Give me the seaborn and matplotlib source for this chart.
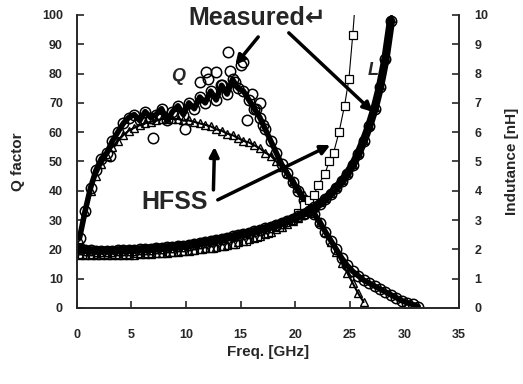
import numpy as np
import matplotlib
matplotlib.use("Agg")
import matplotlib.pyplot as plt
import seaborn as sns

# Q factor, measured (circles) and HFSS (triangles)
f_q_meas = np.arange(0.25, 31.5, 0.5)
q_meas = [24, 33, 41, 47, 51, 53, 57, 60, 63, 65,
          66, 64, 67, 65, 66, 68, 64, 67, 69, 66,
          70, 68, 72, 70, 74, 71, 76, 73, 78, 75,
          74, 71, 68, 65, 61, 57, 53, 49, 46, 43,
          40, 37, 34, 32, 29, 26, 23, 20, 17, 14.5,
          12.5, 11, 9.5, 8.5, 7.5, 6.5, 5.5, 4.5, 3.5, 2.5,
          1.8, 1.2, 0.5]
# scattered measured points around the peak
f_q_extra = [3.0, 7.0, 9.9, 11.3, 11.8, 12.0, 12.7, 13.2, 13.8, 14.0, 14.5, 15.0, 15.2, 15.6, 16.0, 16.4, 16.8, 17.0]
q_extra = [52, 58, 61, 77, 80.5, 78, 80.5, 76, 87.5, 81, 77, 83, 84, 64, 73, 68, 70, 62.5]

f_q_hfss = np.arange(0.25, 26.5, 0.5)
q_hfss = [23, 33, 40, 45, 49, 52, 55, 57, 59, 60.5,
          61.5, 62.5, 63, 63.5, 64, 64.5, 64.5, 64.5, 64.5, 64,
          64, 63.5, 63, 62.5, 62, 61, 60.5, 59.5, 59, 58,
          57, 56.5, 55.5, 54.5, 53, 52, 50, 48, 46, 43.5,
          41, 38.5, 35.5, 32.5, 29.5, 26, 22.5, 19, 15.5, 12,
          8.5, 5, 2]

# Inductance [nH]
f_l = np.arange(0.25, 29.0, 0.5)
l_meas = [2.0, 1.98, 1.97, 1.96, 1.96, 1.96, 1.96, 1.97, 1.97, 1.98,
          1.99, 2.0, 2.01, 2.02, 2.04, 2.05, 2.07, 2.09, 2.11, 2.13,
          2.16, 2.19, 2.22, 2.25, 2.28, 2.32, 2.36, 2.4, 2.44, 2.48,
          2.53, 2.57, 2.62, 2.67, 2.72, 2.78, 2.84, 2.9, 2.97, 3.05,
          3.13, 3.22, 3.32, 3.43, 3.56, 3.72, 3.9, 4.1, 4.32, 4.58,
          4.88, 5.25, 5.7, 6.2, 6.8, 7.55, 8.5, 9.8]
l_tri = [1.82, 1.81, 1.8, 1.8, 1.8, 1.8, 1.8, 1.8, 1.81, 1.81,
         1.82, 1.83, 1.84, 1.85, 1.86, 1.87, 1.89, 1.9, 1.92, 1.94,
         1.96, 1.98, 2.0, 2.03, 2.06, 2.09, 2.12, 2.16, 2.2, 2.24,
         2.29, 2.34, 2.4, 2.46, 2.53, 2.6, 2.68, 2.77, 2.87, 2.97,
         3.08, 3.2, 3.32, 3.45, 3.6, 3.76, 3.94, 4.14, 4.36, 4.62,
         4.92, 5.28, 5.72, 6.24, 6.86, 7.6, 8.55, 9.9]
f_l_sq = [0.5, 1.5, 2.5, 3.5, 4.5, 5.5, 6.5, 7.5, 8.5, 9.5,
          10.5, 11.5, 12.5, 13.5, 14.5, 15.5, 16.5, 17.5, 18.5, 19.5,
          20.25, 20.75, 21.25, 21.7, 22.1, 22.7, 23.1, 23.5, 24.0, 24.5, 24.9, 25.25, 25.6]
l_sq = [1.85, 1.84, 1.84, 1.84, 1.85, 1.86, 1.87, 1.89, 1.91, 1.94,
        1.97, 2.01, 2.06, 2.12, 2.2, 2.3, 2.42, 2.57, 2.76, 3.0,
        3.25, 3.5, 3.68, 3.86, 4.2, 4.57, 5.0, 5.3, 6.0, 6.9, 7.8, 9.3, 11.0]

x_ticks = [0, 5, 10, 15, 20, 25, 30, 35]
q_ticks = [0, 10, 20, 30, 40, 50, 60, 70, 80, 90, 100]
l_ticks = [0, 1, 2, 3, 4, 5, 6, 7, 8, 9, 10]

sns.set_style("ticks")
plt.rcParams["font.family"] = ["Liberation Sans", "DejaVu Sans"]
plt.rcParams["font.weight"] = "bold"

fig, ax = plt.subplots(figsize=(5.23, 3.84), dpi=100)
fig.subplots_adjust(left=0.147, right=0.878, top=0.961, bottom=0.198)
ax2 = ax.twinx()

circ = dict(marker="o", ls="", mfc="none", mec="k", mew=1.1, ms=7.5, color="k")
tri = dict(marker="^", ls="", mfc="none", mec="k", mew=1.0, ms=6, color="k")

# HFSS Q: triangles with a thin trace
sns.lineplot(x=f_q_hfss, y=q_hfss, ax=ax, estimator=None, sort=False, legend=False,
             color="k", lw=1.5)
sns.lineplot(x=f_q_hfss, y=q_hfss, ax=ax, estimator=None, sort=False, legend=False, **tri)
# measured Q: dense band of circles
sns.lineplot(x=f_q_meas, y=q_meas, ax=ax, estimator=None, sort=False, legend=False,
             color="k", lw=4)
sns.lineplot(x=f_q_meas, y=q_meas, ax=ax, estimator=None, sort=False, legend=False, **circ)
sns.lineplot(x=f_q_extra, y=q_extra, ax=ax, estimator=None, sort=False, legend=False, **circ)

# inductance: HFSS squares underneath, measured band on top
sns.lineplot(x=f_l_sq, y=l_sq, ax=ax2, estimator=None, sort=False, legend=False,
             marker="s", ls="-", lw=0.8, color="k", mfc="white", mec="k", mew=0.9, ms=6)
sns.lineplot(x=f_l, y=l_meas, ax=ax2, estimator=None, sort=False, legend=False,
             color="k", lw=6)
sns.lineplot(x=f_l, y=l_tri, ax=ax2, estimator=None, sort=False, legend=False, **tri)
sns.lineplot(x=f_l, y=l_meas, ax=ax2, estimator=None, sort=False, legend=False, **circ)

ax.set_xlim(0, 35)
ax.set_ylim(0, 100)
ax2.set_ylim(0, 10)
ax.set_xticks(x_ticks)
ax.set_yticks(q_ticks)
ax2.set_yticks(l_ticks)

for a in (ax, ax2):
    a.spines["top"].set_visible(False)
    for s in a.spines.values():
        s.set_linewidth(1.2)
ax.tick_params(axis="both", direction="in", length=5, width=1.2, labelsize=9)
ax.tick_params(axis="x", pad=15)
ax.tick_params(axis="y", pad=10)
ax2.tick_params(axis="y", direction="in", length=5, width=1.2, labelsize=9, pad=11)

ax.set_xlabel("Freq. [GHz]", fontsize=11, fontweight="bold", labelpad=3)
ax.set_ylabel("Q factor", fontsize=11, fontweight="bold", labelpad=12)
ax2.set_ylabel("Indutance [nH]", fontsize=11, fontweight="bold", labelpad=12)

ax.text(10.2, 99, "Measured\u21b5", fontsize=18, fontweight="bold", va="center", ha="left")
ax.text(5.9, 36, "HFSS", fontsize=18, fontweight="bold", va="center", ha="left")
ax.text(8.6, 79, "Q", fontsize=13, fontweight="bold", style="italic", va="center")
ax2.text(26.6, 8.1, "L", fontsize=13, fontweight="bold", style="italic", va="center")

arr = dict(arrowstyle="-|>", lw=2.5, color="k", mutation_scale=14, shrinkA=0, shrinkB=0)
ax.annotate("", xy=(14.5, 82.9), xytext=(16.6, 92.5), arrowprops=arr)
ax.annotate("", xy=(27.1, 66.9), xytext=(19.4, 93.9), arrowprops=arr)
ax.annotate("", xy=(12.6, 55), xytext=(12.5, 40.3), arrowprops=arr)
ax.annotate("", xy=(23.2, 55.6), xytext=(12.9, 36.9), arrowprops=arr)

fig.savefig("out.png", dpi=100)
